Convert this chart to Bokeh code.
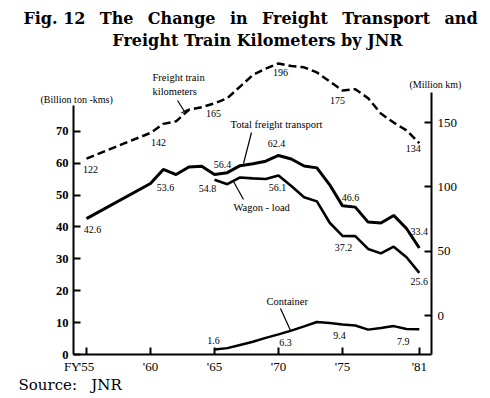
from bokeh.plotting import figure
from bokeh.models import Range1d, LinearAxis, FixedTicker, ColumnDataSource, Label
from bokeh.core.properties import value
from bokeh.embed import file_html
from bokeh.resources import INLINE

# ---------------- data (FY) ----------------
km_years = [55, 60, 61, 62, 63, 64, 65, 66, 67, 68, 69, 70, 71, 72, 73, 74, 75, 76, 77, 78, 79, 80, 81]
km_values = [122, 142, 149, 151, 160, 162, 165, 169, 178, 187, 192, 196, 194, 193, 189, 182, 175, 176, 169, 157, 150, 144, 134]

total_years = [55, 60, 61, 62, 63, 64, 65, 66, 67, 68, 69, 70, 71, 72, 73, 74, 75, 76, 77, 78, 79, 80, 81]
total_values = [42.6, 53.6, 58.0, 56.4, 58.8, 59.0, 56.4, 57.0, 59.2, 59.8, 60.6, 62.4, 61.3, 59.1, 58.5, 53.2, 46.6, 46.2, 41.5, 41.2, 43.6, 39.5, 33.4]

wagon_years = [65, 66, 67, 68, 69, 70, 71, 72, 73, 74, 75, 76, 77, 78, 79, 80, 81]
wagon_values = [54.8, 53.4, 55.5, 55.2, 55.0, 56.1, 52.8, 49.3, 48.0, 41.3, 37.2, 37.1, 33.1, 31.7, 33.8, 30.5, 25.6]

container_years = [65, 66, 67, 68, 69, 70, 71, 72, 73, 74, 75, 76, 77, 78, 79, 80, 81]
container_values = [1.6, 2.0, 3.0, 4.0, 5.2, 6.3, 7.5, 8.8, 10.2, 9.9, 9.4, 9.1, 7.8, 8.3, 8.9, 8.0, 7.9]

labelled_years = [55, 60, 65, 70, 75, 81]
x_ticks = [55, 60, 65, 70, 75, 81]
x_tick_labels = ["'55", "'60", "'65", "'70", "'75", "'81"]
left_ticks = [0, 10, 20, 30, 40, 50, 60, 70]
right_ticks = [0, 50, 100, 150]

# ---------------- geometry (page pixels) ----------------
W, H = 490, 398
PX_PER_YEAR = 12.8
PX_PER_LEFT = 3.19
PX_PER_RIGHT = 1.286
X_REF_PX, X_REF_YEAR = 86, 55          # where FY'55 sits
Y_ZERO_PX = 354                          # left-axis zero
K_ZERO_PX = 315                          # right-axis zero
AX_LEFT_PX, AX_RIGHT_PX = 73, 431
AX_LEFT_TOP_PX, AX_RIGHT_TOP_PX = 105, 92

X0 = X_REF_YEAR - X_REF_PX / PX_PER_YEAR
X1 = X0 + W / PX_PER_YEAR
Y1 = Y_ZERO_PX / PX_PER_LEFT
Y0 = Y1 - H / PX_PER_LEFT
K1 = K_ZERO_PX / PX_PER_RIGHT
K0 = K1 - H / PX_PER_RIGHT

def dx_(px):
    return X0 + px / PX_PER_YEAR

def dy_(py):
    return Y1 - py / PX_PER_LEFT

def dk_(py):
    return K1 - py / PX_PER_RIGHT

p = figure(width=W, height=H, x_range=Range1d(X0, X1), y_range=Range1d(Y0, Y1),
           output_backend="svg", toolbar_location=None,
           min_border_left=0, min_border_right=0, min_border_top=0, min_border_bottom=0)
p.extra_y_ranges = {"km": Range1d(K0, K1)}
p.xgrid.visible = False
p.ygrid.visible = False
p.outline_line_color = None
p.background_fill_color = "white"
p.border_fill_color = "white"

def style_axis(ax):
    ax.axis_line_width = 2
    ax.axis_line_color = "black"
    ax.major_tick_line_width = 2
    ax.major_tick_line_color = "black"
    ax.major_tick_in = 7
    ax.major_tick_out = 0
    ax.minor_tick_line_color = None
    ax.major_label_text_color = "black"
    ax.major_label_text_font = "Liberation Serif"

xa = p.xaxis[0]
style_axis(xa)
xa.ticker = FixedTicker(ticks=x_ticks)
xa.major_label_overrides = {t: l for t, l in zip(x_ticks, x_tick_labels)}
xa.major_label_text_font_size = "13px"
xa.major_label_standoff = 4
xa.fixed_location = 0
xa.bounds = (dx_(AX_LEFT_PX), dx_(AX_RIGHT_PX))

ya = p.yaxis[0]
style_axis(ya)
ya.ticker = FixedTicker(ticks=left_ticks)
ya.major_label_text_font_size = "12.5px"
ya.major_label_text_font_style = "bold"
ya.major_label_standoff = 5
ya.fixed_location = dx_(AX_LEFT_PX)
ya.bounds = (0, dy_(AX_LEFT_TOP_PX))

ra = LinearAxis(y_range_name="km", ticker=FixedTicker(ticks=right_ticks))
style_axis(ra)
ra.major_label_text_font_size = "13px"
ra.major_label_standoff = 6
ra.fixed_location = dx_(AX_RIGHT_PX)
ra.bounds = (dk_(Y_ZERO_PX), dk_(AX_RIGHT_TOP_PX))
p.add_layout(ra, "right")

# ---------------- lines ----------------
p.line(km_years, km_values, y_range_name="km", line_width=2.5, line_dash="8 4", line_color="black")
p.line(total_years, total_values, line_width=3, line_color="black")
p.line(wagon_years, wagon_values, line_width=2.6, line_color="black")
p.line(container_years, container_values, line_width=2.5, line_color="black")

# ---------------- value labels ----------------
def series_labels(years, values, fmt, dx, dy, range_name="default"):
    lookup = dict(zip(years, values))
    xs = [y for y in labelled_years if y in lookup]
    vs = [lookup[y] for y in xs]
    src = ColumnDataSource(dict(x=xs, y=vs, t=[fmt.format(v) for v in vs], dx=dx[:len(xs)], dy=dy[:len(xs)]))
    p.text(x="x", y="y", text="t", x_offset="dx", y_offset="dy", source=src,
           y_range_name=range_name, text_font=value("Liberation Serif"), text_font_size="10px",
           text_align="center", text_baseline="middle", text_color="black")

series_labels(km_years, km_values, "{:.0f}", [4, 8, -1, 2, -5, -6], [11, 10, 10, 9, 10, 5], "km")
series_labels(total_years, total_values, "{:.1f}", [6, 15, 8, -2, 8, 0], [11, 4, -10, -12, -8, -16])
series_labels(wagon_years, wagon_values, "{:.1f}", [-7, -1, 1, 0], [9, 12, 12, 9])
series_labels(container_years, container_values, "{:.1f}", [-1, 7, -3, -16], [-9, 8, 11, 12])

# ---------------- annotations ----------------
def note(px, py, text, size="10.5px", font="Liberation Serif", align="left", style="normal"):
    p.add_layout(Label(x=dx_(px), y=dy_(py), text=text, text_font=font, text_font_size=size,
                       text_align=align, text_baseline="middle", text_font_style=style,
                       text_color="black"))

def pointer(x0, y0, x1, y1):
    p.segment(x0=[dx_(x0)], y0=[dy_(y0)], x1=[dx_(x1)], y1=[dy_(y1)], line_color="black", line_width=1.2)

note(152, 77, "Freight train")
note(152, 91, "kilometers")
pointer(177, 100, 184, 111)
pointer(181, 112.5, 187, 109)
note(230, 124, "Total freight transport")
pointer(251, 132, 243, 163)
note(233, 207, "Wagon - load")
pointer(243, 199, 233, 181)
note(266, 301, "Container")
pointer(280, 308, 290, 330)

note(40, 99, "(Billion ton -kms)", size="10px")
note(409, 84, "(Million km)", size="10px")
note(80, 366, "FY", size="13px", align="right")

nb = "\u00a0"
gap = nb * 2 + "\u2009"
title1 = "Fig. 12" + gap + "The" + gap + "Change" + gap + "in" + gap + "Freight" + gap + "Transport" + gap + "and"
note(250, 18, title1, size="16px", font="DejaVu Serif", align="center", style="bold")
note(257, 40, "Freight Train Kilometers by JNR", size="16px", font="DejaVu Serif", align="center", style="bold")
note(18, 384, "Source:" + nb * 3 + "JNR", size="15px", font="DejaVu Serif")

open("out.html", "w").write(file_html(p, INLINE))
